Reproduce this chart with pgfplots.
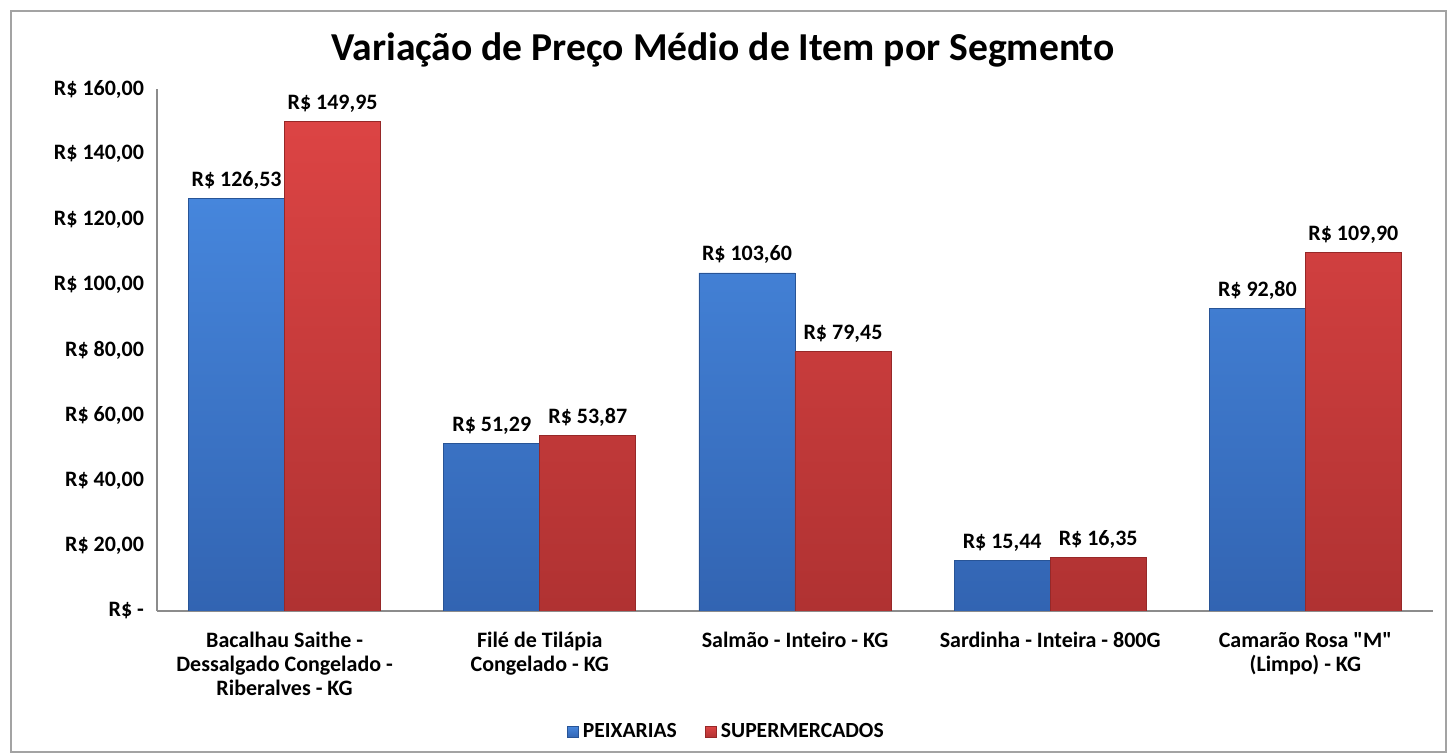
\documentclass[border=0pt]{standalone}
\usepackage{pgfplots}
\pgfplotsset{compat=1.18}
\usepackage{fontspec}
\setmainfont{Carlito}

\definecolor{bluetop}{RGB}{70,134,220}
\definecolor{bluebot}{RGB}{50,100,178}
\definecolor{bluedark}{RGB}{40,84,150}
\definecolor{redtop}{RGB}{220,68,68}
\definecolor{redbot}{RGB}{176,50,50}
\definecolor{reddark}{RGB}{150,40,40}
\definecolor{axisgray}{RGB}{140,140,140}

\begin{document}
\begin{tikzpicture}
\useasboundingbox (-78.5pt,-71.5pt) rectangle (645.5pt,305.5pt);
\draw[axisgray!80, line width=0.7pt] (-73pt,-70.5pt) rectangle (644.5pt,300pt);
\node[font=\bfseries\fontsize{19.8}{24}\selectfont] at (283pt,280.5pt)
  {Variação de Preço Médio de Item por Segmento};

\begin{axis}[
  at={(0,0)}, anchor=south west,
  scale only axis,
  width=638pt, height=261pt,
  ybar=0pt, bar width=48pt,
  xmin=-0.5, xmax=4.5,
  ymin=0, ymax=160,
  axis x line*=bottom, axis y line*=left,
  axis line style={axisgray, -, line width=0.7pt},
  major tick length=0pt,
  /pgf/number format/assume math mode=true,
  xtick={0,1,2,3,4},
  xticklabels={
    {Bacalhau Saithe -\\Dessalgado Congelado -\\Riberalves - KG},
    {Filé de Tilápia\\Congelado - KG},
    {Salmão - Inteiro - KG},
    {Sardinha - Inteira - 800G},
    {Camarão Rosa \textquotedbl M\textquotedbl\\(Limpo) - KG}},
  xticklabel style={align=center, anchor=north, yshift=-7pt,
    font=\bfseries\fontsize{11}{12}\selectfont},
  ytick={0,20,40,60,80,100,120,140,160},
  yticklabels={{R\$ -},{R\$ 20,00},{R\$ 40,00},{R\$ 60,00},{R\$ 80,00},
    {R\$ 100,00},{R\$ 120,00},{R\$ 140,00},{R\$ 160,00}},
  yticklabel style={font=\bfseries\fontsize{11}{12}\selectfont, xshift=-3pt},
  nodes near coords={R\$ \pgfmathprintnumber[fixed,fixed zerofill,precision=2,use comma,1000 sep={}]{\pgfplotspointmeta}},
  every node near coord/.append style={font=\bfseries\fontsize{11}{12}\selectfont, black, yshift=1pt},
  legend style={at={(0.447,-0.232)}, anchor=center, draw=none,
    font=\bfseries\fontsize{10.8}{12}\selectfont, legend columns=2,
    /tikz/every even column/.append style={column sep=12pt}},
  legend image code/.code={\draw[#1] (0pt,-2.8pt) rectangle (5.6pt,2.8pt);},
]
\addplot[draw=bluedark, line width=0.4pt, top color=bluetop, bottom color=bluebot]
  coordinates {(0,126.53) (1,51.29) (2,103.60) (3,15.44) (4,92.80)};
\addlegendentry{PEIXARIAS}
\addplot[draw=reddark, line width=0.4pt, top color=redtop, bottom color=redbot]
  coordinates {(0,149.95) (1,53.87) (2,79.45) (3,16.35) (4,109.90)};
\addlegendentry{SUPERMERCADOS}
\end{axis}
\end{tikzpicture}
\end{document}
